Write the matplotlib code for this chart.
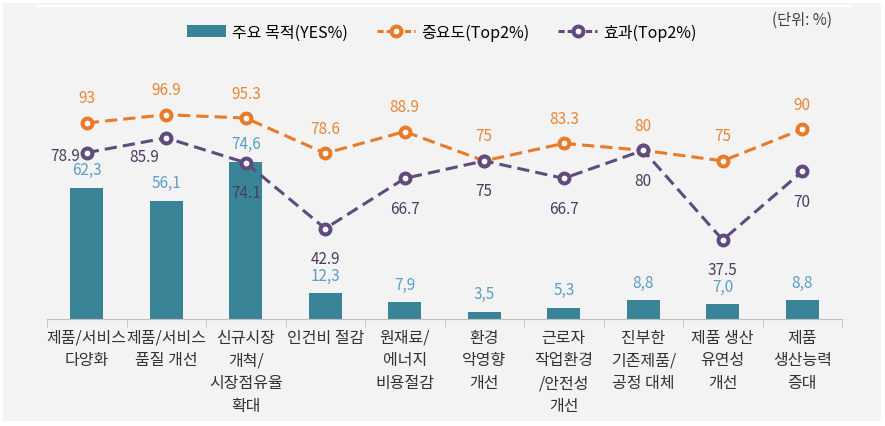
import numpy as np
import matplotlib.pyplot as plt
from matplotlib.patches import Rectangle, Patch
from matplotlib.lines import Line2D

plt.rcParams['font.family'] = ['Noto Sans CJK KR', 'DejaVu Sans']

categories = ["제품/서비스\n다양화", "제품/서비스\n품질 개선", "신규시장\n개척/\n시장점유율\n확대",
              "인건비 절감", "원재료/\n에너지\n비용절감", "환경\n악영향\n개선",
              "근로자\n작업환경\n/안전성\n개선", "진부한\n기존제품/\n공정 대체",
              "제품 생산\n유연성\n개선", "제품\n생산능력\n증대"]
purpose = [62.3, 56.1, 74.6, 12.3, 7.9, 3.5, 5.3, 8.8, 7.0, 8.8]
importance = [93, 96.9, 95.3, 78.6, 88.9, 75, 83.3, 80, 75, 90]
effect = [78.9, 85.9, 74.1, 42.9, 66.7, 75, 66.7, 80, 37.5, 70]

teal = "#3a8497"
orange = "#e87a28"
purple = "#5f4b7d"

fig = plt.figure(figsize=(8.85, 4.27), dpi=100)
fig.patch.set_facecolor("white")
# gray panel and the thin white line on top
fig.patches.append(Rectangle((3 / 885, 1 - 422 / 427), 878 / 885, 418 / 427,
                             transform=fig.transFigure, facecolor="#f3f3f3", edgecolor="none", zorder=-10))
fig.lines.append(Line2D([36 / 885, 852 / 885], [1 - 7 / 427, 1 - 7 / 427],
                        transform=fig.transFigure, color="white", lw=1.5, zorder=-9))

ax = fig.add_axes([47 / 885, 107 / 427, 795 / 885, 253 / 427])
ax.set_zorder(1)
ax.set_facecolor("none")
x = np.arange(len(categories))

ax.bar(x, purpose, width=0.42, color=teal, zorder=2)
ax.plot(x, importance, color=orange, lw=2.2, dashes=(4, 2), marker="o", ms=7.1, mew=2.9,
        mfc="white", mec=orange, zorder=3)
ax.plot(x, effect, color=purple, lw=2.2, dashes=(4, 2), marker="o", ms=7.1, mew=2.9,
        mfc="white", mec=purple, zorder=4)

for i, v in enumerate(purpose):
    ax.annotate(f"{v:.1f}".replace(".", ","), (x[i], v), xytext=(0, 18), textcoords="offset pixels",
                ha="center", va="center", fontsize=11, color="#5a9fc4")
for i, v in enumerate(importance):
    ax.annotate(f"{v:g}", (x[i], v), xytext=(0, 25), textcoords="offset pixels",
                ha="center", va="center", fontsize=11, color="#ea8636")
# purple label offsets (pixels), most sit below the marker
eff_off = [(-22, -3), (-22, -19)] + [(0, -30)] * 8
for i, v in enumerate(effect):
    ax.annotate(f"{v:g}", (x[i], v), xytext=eff_off[i], textcoords="offset pixels",
                ha="center", va="center", fontsize=11, color="#4a3e5e")

ax.set_xlim(-0.5, len(categories) - 0.5)
ax.set_ylim(0, 120)
ax.set_yticks([])
for s in ["top", "left", "right"]:
    ax.spines[s].set_visible(False)
ax.spines["bottom"].set_color("#bfbfbf")
ax.set_xticks(x)
ax.set_xticklabels(categories, fontsize=11.5, color="#333333", linespacing=1.44, va="top")
ax.tick_params(axis="x", which="major", length=0, pad=7)
ax.set_xticks(np.arange(-0.5, len(categories)), minor=True)
ax.tick_params(axis="x", which="minor", length=6, color="#bfbfbf")

handles = [Patch(facecolor=teal, edgecolor="none"),
           Line2D([], [], color=orange, lw=2.2, dashes=(2, 1), marker="o", ms=7.1, mew=2.9, mfc="white"),
           Line2D([], [], color=purple, lw=2.2, dashes=(2, 1), marker="o", ms=7.1, mew=2.9, mfc="white")]
fig.legend(handles, ["주요 목적(YES%)", "중요도(Top2%)", "효과(Top2%)"], loc="center",
           bbox_to_anchor=(442 / 885, 1 - 33 / 427), ncol=3, frameon=False, fontsize=11.5,
           handlelength=2.4, handletextpad=0.4, columnspacing=1.8)
fig.text(802 / 885, 1 - 20 / 427, "(단위: %)", ha="center", va="center", fontsize=11, color="#404040")

fig.savefig("out.png", dpi=100)
